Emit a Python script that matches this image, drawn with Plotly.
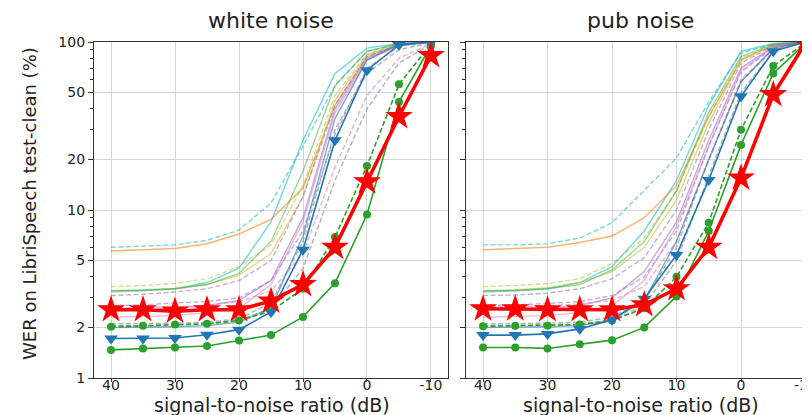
import plotly.graph_objects as go

# ---------------- data ----------------
snr = [40, 35, 30, 25, 20, 15, 10, 5, 0, -5, -10]
x_ticks = [40, 30, 20, 10, 0, -10]
x_tick_labels = ["40", "30", "20", "10", "0", "-10"]
y_ticks = [1, 2, 5, 10, 20, 50, 100]
y_tick_labels = ["1", "2", "5", "10", "20", "50", "100"]
y_minor = [3, 4, 6, 7, 8, 9, 30, 40, 60, 70, 80, 90]
panel_titles = ["white noise", "pub noise"]

# white noise WER (%)
cyan_dash_white   = [6.0, 6.1, 6.2, 6.6, 7.6, 11, 24, 55, 88, 97, 100]
cyan_solid_white  = [3.3, 3.35, 3.4, 3.7, 4.5, 8.5, 26, 65, 92, 98, 100]
orange_white      = [5.7, 5.8, 5.9, 6.3, 7.2, 8.8, 13.5, 42, 82, 96, 100]
olive_dash_white  = [3.5, 3.55, 3.65, 3.9, 4.6, 6.2, 14, 48, 85, 97, 100]
olive_solid_white = [3.25, 3.3, 3.4, 3.6, 4.1, 5.5, 12, 45, 84, 97, 100]
green_thin_white  = [3.3, 3.32, 3.4, 3.6, 4.2, 6.5, 17, 55, 88, 98, 100]
purple_dash_white = [3.1, 3.15, 3.25, 3.4, 3.8, 5.0, 12, 42, 82, 96, 100]
purple_dash2_white = [2.7, 2.72, 2.8, 2.85, 3.0, 3.8, 7.5, 28, 70, 94, 100]
purple_solid_white = [2.5, 2.55, 2.6, 2.7, 2.9, 3.8, 9, 40, 80, 96, 100]
pink_solid_white  = [2.3, 2.32, 2.35, 2.45, 2.6, 3.6, 8.5, 38, 78, 95, 100]
pink_dash_white   = [2.6, 2.62, 2.65, 2.7, 2.85, 3.3, 5.5, 18, 48, 80, 98]
gray_dash_white   = [2.1, 2.1, 2.12, 2.15, 2.25, 2.8, 6.5, 30, 65, 90, 99]
gray_dash2_white  = [2.05, 2.05, 2.08, 2.1, 2.2, 2.6, 4.5, 15, 40, 75, 97]
blue_solid_white  = [2.0, 2.0, 2.02, 2.05, 2.15, 2.6, 7, 35, 78, 97, 100]
blue_tri_white    = [1.72, 1.72, 1.73, 1.81, 1.94, 2.47, 5.8, 26, 68, 96, 100]
green_dash_dot_white = [2.02, 2.05, 2.08, 2.1, 2.2, 2.5, 3.4, 6.9, 18.3, 56, 97]
green_dot_white   = [1.47, 1.5, 1.52, 1.55, 1.67, 1.8, 2.31, 3.67, 9.4, 44, 95]
whisper_white     = [2.55, 2.55, 2.5, 2.55, 2.55, 2.87, 3.6, 6.0, 14.7, 36, 83]

# pub noise WER (%)
cyan_dash_pub   = [6.2, 6.2, 6.3, 6.8, 8.4, 13, 20.4, 44, 86, 97, 100]
cyan_solid_pub  = [3.25, 3.3, 3.4, 3.7, 4.6, 7.5, 15, 42, 88, 98, 100]
orange_pub      = [5.8, 5.9, 6.0, 6.4, 7.0, 9.0, 14, 36, 78, 96, 100]
olive_dash_pub  = [3.5, 3.55, 3.65, 3.9, 4.8, 6.8, 13, 36, 80, 96, 100]
olive_solid_pub = [3.3, 3.35, 3.45, 3.7, 4.3, 6.0, 11.5, 33, 78, 96, 100]
green_thin_pub  = [3.3, 3.32, 3.4, 3.6, 4.4, 6.5, 13, 38, 82, 97, 100]
purple_dash_pub = [3.1, 3.12, 3.2, 3.4, 3.9, 5.2, 10, 30, 75, 95, 100]
purple_dash2_pub = [2.7, 2.72, 2.78, 2.85, 3.1, 4.0, 7.5, 24, 66, 93, 100]
purple_solid_pub = [2.55, 2.58, 2.62, 2.7, 3.0, 4.3, 8.5, 26, 70, 94, 100]
pink_solid_pub  = [2.3, 2.32, 2.35, 2.45, 2.7, 3.8, 8.0, 24, 68, 93, 100]
pink_dash_pub   = [2.65, 2.66, 2.7, 2.75, 2.9, 3.5, 6.5, 20, 60, 90, 100]
gray_dash_pub   = [2.1, 2.1, 2.12, 2.15, 2.3, 2.9, 6.0, 20, 58, 90, 100]
gray_dash2_pub  = [2.05, 2.05, 2.07, 2.1, 2.2, 2.7, 5.0, 16, 50, 88, 100]
blue_solid_pub  = [2.0, 2.0, 2.02, 2.05, 2.2, 2.9, 6.5, 20, 58, 92, 100]
blue_tri_pub    = [1.8, 1.8, 1.83, 1.96, 2.22, 2.96, 5.4, 15.1, 47.5, 88, 100]
green_dash_dot_pub = [2.03, 2.05, 2.05, 2.08, 2.2, 2.6, 4.0, 8.4, 30, 72, 99]
green_dot_pub   = [1.52, 1.52, 1.5, 1.59, 1.68, 2.0, 3.06, 7.5, 24.4, 65, 98]
whisper_pub     = [2.58, 2.58, 2.55, 2.55, 2.55, 2.73, 3.4, 6.0, 15.5, 48.6, 98.6]

# ---------------- styles ----------------
DASH = "5px,2.5px"
faint = [
    (cyan_dash_white, cyan_dash_pub, "rgba(23,190,207,0.6)", DASH),
    (cyan_solid_white, cyan_solid_pub, "rgba(23,190,207,0.6)", "solid"),
    (orange_white, orange_pub, "rgba(255,127,14,0.6)", "solid"),
    (olive_dash_white, olive_dash_pub, "rgba(188,189,34,0.55)", DASH),
    (olive_solid_white, olive_solid_pub, "rgba(188,189,34,0.55)", "solid"),
    (green_thin_white, green_thin_pub, "rgba(44,160,44,0.45)", "solid"),
    (purple_dash_white, purple_dash_pub, "rgba(148,103,189,0.55)", DASH),
    (purple_dash2_white, purple_dash2_pub, "rgba(148,103,189,0.55)", DASH),
    (purple_solid_white, purple_solid_pub, "rgba(148,103,189,0.55)", "solid"),
    (pink_solid_white, pink_solid_pub, "rgba(227,119,194,0.55)", "solid"),
    (pink_dash_white, pink_dash_pub, "rgba(227,119,194,0.6)", DASH),
    (gray_dash_white, gray_dash_pub, "rgba(127,127,127,0.6)", DASH),
    (gray_dash2_white, gray_dash2_pub, "rgba(127,127,127,0.6)", DASH),
    (blue_solid_white, blue_solid_pub, "rgba(31,119,180,0.6)", "solid"),
]

W, H = 810, 415
fig = go.Figure()

for k, axx in enumerate(["x", "x2"]):
    axy = "y" if k == 0 else "y2"
    for wv, pv, col, dash in faint:
        fig.add_trace(go.Scatter(
            x=snr, y=(wv if k == 0 else pv), xaxis=axx, yaxis=axy,
            mode="lines", line=dict(color=col, width=1.4, dash=dash),
            showlegend=False, hoverinfo="skip"))
    fig.add_trace(go.Scatter(
        x=snr, y=(green_dash_dot_white if k == 0 else green_dash_dot_pub),
        xaxis=axx, yaxis=axy, mode="lines+markers",
        line=dict(color="#2ca02c", width=1.6, dash=DASH),
        marker=dict(symbol="circle", size=8, color="#2ca02c"), showlegend=False))
    fig.add_trace(go.Scatter(
        x=snr, y=(green_dot_white if k == 0 else green_dot_pub),
        xaxis=axx, yaxis=axy, mode="lines+markers",
        line=dict(color="#2ca02c", width=1.6),
        marker=dict(symbol="circle", size=8, color="#2ca02c"), showlegend=False))
    fig.add_trace(go.Scatter(
        x=snr, y=(blue_tri_white if k == 0 else blue_tri_pub),
        xaxis=axx, yaxis=axy, mode="lines+markers",
        line=dict(color="#1f77b4", width=1.6),
        marker=dict(symbol="triangle-down", size=12, color="#1f77b4"), showlegend=False))
    fig.add_trace(go.Scatter(
        x=snr, y=(whisper_white if k == 0 else whisper_pub),
        xaxis=axx, yaxis=axy, mode="lines+markers",
        line=dict(color="#ff0000", width=3.5),
        marker=dict(symbol="star", size=21, color="#ff0000"), showlegend=False))

axis_font = dict(family="DejaVu Sans", size=14, color="#222222")
y_dom = [1 - 370 / H, 1 - 34 / H]

common_x = dict(tickmode="array", tickvals=x_ticks, ticktext=x_tick_labels,
                ticks="outside", ticklen=3, tickcolor="#333333",
                ticklabelstandoff=-9,
                showgrid=True, gridcolor="#d6d6d6", gridwidth=1,
                showline=True, linecolor="#333333", linewidth=1.2,
                zeroline=False, tickfont=axis_font, automargin=False)
common_y = dict(type="log", range=[0, 2], tickmode="array", tickvals=y_ticks,
                ticktext=y_tick_labels, ticks="outside", ticklen=5,
                tickcolor="#333333", showgrid=True, gridcolor="#d6d6d6",
                gridwidth=1, showline=True, linecolor="#333333", linewidth=1.2,
                zeroline=False, tickfont=axis_font, automargin=False,
                minor=dict(tickvals=y_minor, ticks="outside", ticklen=3,
                           tickcolor="#333333", showgrid=False))

fig.update_layout(
    width=W, height=H, margin=dict(l=0, r=0, t=0, b=0),
    paper_bgcolor="white", plot_bgcolor="white",
    font=dict(family="DejaVu Sans", color="#222222"),
    xaxis=dict(domain=[86 / W, 440 / W], range=[42.66, -12.66], anchor="y",
               mirror=True, **common_x),
    xaxis2=dict(domain=[458 / W, 1.0], range=[42.64, -11.94], anchor="y2",
                mirror=True, **common_x),
    yaxis=dict(domain=y_dom, anchor="x", mirror=True, **common_y),
    yaxis2=dict(domain=y_dom, anchor="x2", mirror=False, showticklabels=False,
                **common_y),
)

annos = [
    (panel_titles[0], 263, 13, 22, 0),
    (panel_titles[1], 632, 13, 22, 0),
    ("signal-to-noise ratio (dB)", 264, 397, 19, 0),
    ("signal-to-noise ratio (dB)", 633, 397, 19, 0),
    ("WER on LibriSpeech test-clean (%)", 22, 196, 18, -90),
]
for text, px, py, size, ang in annos:
    fig.add_annotation(xref="paper", yref="paper", showarrow=False,
                       xanchor="center", yanchor="middle",
                       font=dict(family="DejaVu Sans", color="#222222", size=size),
                       text=text, x=px / W, y=1 - py / H, textangle=ang)

fig.write_html("out.html")
